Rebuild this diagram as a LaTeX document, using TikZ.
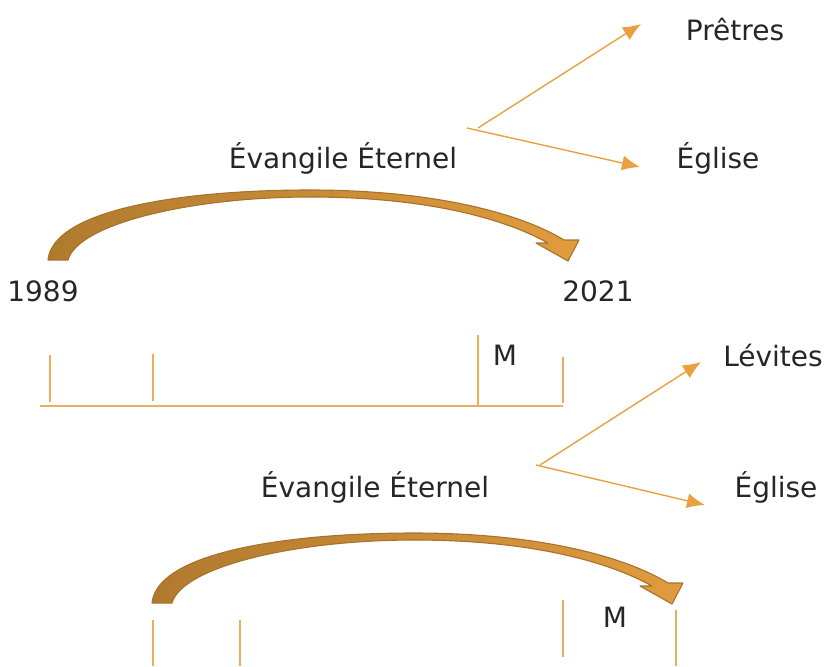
\documentclass[tikz,border=0pt]{standalone}
\usepackage{fontspec}
\setmainfont{DejaVu Sans}
\usepackage{tikz}
\usetikzlibrary{arrows.meta}

\definecolor{textGray}{HTML}{262626}
\definecolor{lineOrange}{HTML}{E8A040}
\definecolor{tickOrange}{HTML}{EAAE5C}
\definecolor{bandDark}{HTML}{B07A2E}
\definecolor{bandLight}{HTML}{E09C3E}
\definecolor{bandEdge}{HTML}{A8722C}

\begin{document}
\begin{tikzpicture}[
    x = 1pt, y = -1pt,
    word/.style = {text = textGray, font = \fontsize{28}{32}\selectfont, inner sep = 0pt},
    thinArrow/.style = {draw = lineOrange, line width = 1.4pt, -{Latex[length = 18pt, width = 15pt]}},
    tick/.style = {draw = tickOrange, line width = 1.8pt},
    bandArrow/.style = {left color = bandDark, right color = bandLight, draw = bandEdge, line width = 1.1pt, line join = round}
    ]
      \useasboundingbox (0,0) rectangle (826,666);

      %% Texts
      \node[word] (pretres) at (735,30) {Prêtres};
      \node[word] (egliseA) at (718,158) {Église};
      \node[word] (evangileA) at (343,158) {Évangile Éternel};
      \node[word] (annee1989) at (43,291) {1989};
      \node[word] (annee2021) at (598,291) {2021};
      \node[word] (mA) at (505,355) {M};
      \node[word] (levites) at (773,355) {Lévites};
      \node[word] (egliseB) at (776,487) {Église};
      \node[word] (evangileB) at (375,487) {Évangile Éternel};
      \node[word] (mB) at (615,617) {M};

      %% Forks
      \coordinate (forkA1) at (478,128);
      \coordinate (forkA2) at (467,128);
      \coordinate (tipPretres) at (641,24);
      \coordinate (tipEgliseA) at (640,167);
      \coordinate (forkB1) at (540,465);
      \coordinate (forkB2) at (536,465);
      \coordinate (tipLevites) at (701,362);
      \coordinate (tipEgliseB) at (705,505);

      \draw[thinArrow] (forkA1) -- (tipPretres);
      \draw[thinArrow] (forkA2) -- (tipEgliseA);
      \draw[thinArrow] (forkB1) -- (tipLevites);
      \draw[thinArrow] (forkB2) -- (tipEgliseB);

      %% Curved arrows
      \foreach \dx/\dy in {0/0, 104/343}{
        \begin{scope}[shift = {(\dx,\dy)}]
          \path[bandArrow] (48,260) .. controls (53,210) and (180,190) .. (310,190)
            .. controls (430,190) and (518,212) .. (564,240) -- (579,240) -- (568,261)
            -- (536,243) -- (548,243) .. controls (503,218) and (425,197) .. (310,197)
            .. controls (190,197) and (78,224) .. (68,260) -- cycle;
        \end{scope}
      }

      %% Timelines
      \draw[tick] (40,406) -- (563,406);
      \draw[tick] (50,355) -- (50,402);
      \draw[tick] (153,354) -- (153,401);
      \draw[tick] (478,335) -- (478,406);
      \draw[tick] (563,357) -- (563,403);

      \draw[tick] (153,620) -- (153,666);
      \draw[tick] (240,620) -- (240,666);
      \draw[tick] (563,600) -- (563,657);
      \draw[tick] (676,610) -- (676,666);
    \end{tikzpicture}
\end{document}
